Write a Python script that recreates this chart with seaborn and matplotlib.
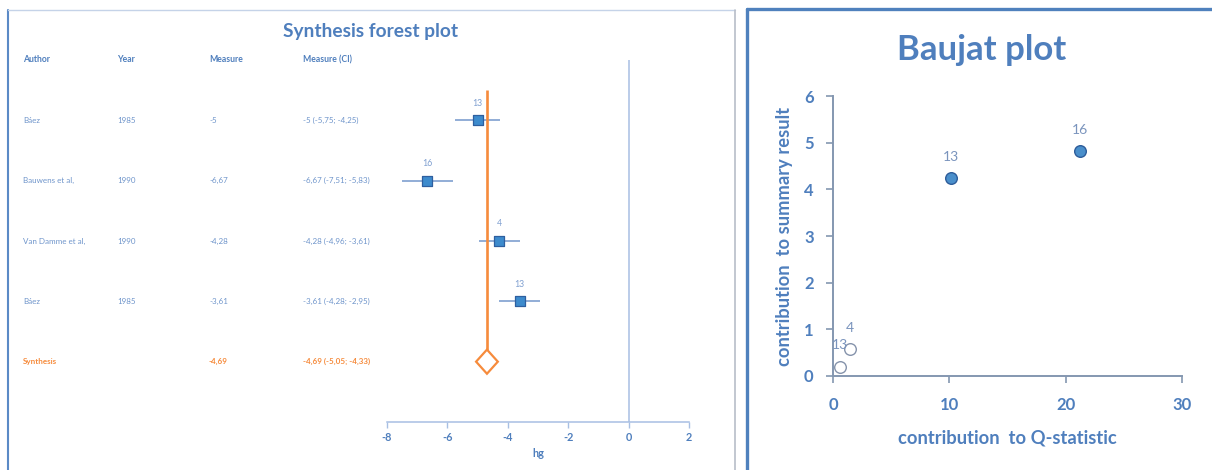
import matplotlib
matplotlib.use("Agg")
import matplotlib.pyplot as plt
import matplotlib.transforms as mtransforms
from matplotlib.patches import Polygon
import numpy as np
import pandas as pd
import seaborn as sns

# ---- forest plot data ----
authors = ["Báez", "Bauwens et al,", "Van Damme et al,", "Báez"]
years = ["1985", "1990", "1990", "1985"]
measure = [-5.0, -6.67, -4.28, -3.61]
ci_low = [-5.75, -7.51, -4.96, -4.28]
ci_high = [-4.25, -5.83, -3.61, -2.95]
weights = ["13", "16", "4", "13"]
measure_text = ["-5", "-6,67", "-4,28", "-3,61"]
ci_text = ["-5 (-5,75; -4,25)", "-6,67 (-7,51; -5,83)",
           "-4,28 (-4,96; -3,61)", "-3,61 (-4,28; -2,95)"]
synth_est, synth_low, synth_high = -4.69, -5.05, -4.33
synth_text = ["Synthesis", "", "-4,69", "-4,69 (-5,05; -4,33)"]
headers = ["Author", "Year", "Measure", "Measure (CI)"]
forest_ticks = [-8, -6, -4, -2, 0, 2]

# ---- Baujat plot data ----
baujat_q = [10.15, 21.2, 1.42, 0.6]
baujat_infl = [4.24, 4.82, 0.57, 0.2]
baujat_labels = ["13", "16", "4", "13"]
baujat_highlight = [True, True, False, False]
baujat_xticks = [0, 10, 20, 30]
baujat_yticks = [0, 1, 2, 3, 4, 5, 6]

sns.set_theme(style="white")
plt.rcParams["font.family"] = ["Lato", "DejaVu Sans"]

BLUE = "#4f7fbd"
LIGHT_BLUE = "#6f95cb"
ORANGE = "#f68b3c"
AXIS_GRAY = "#8497b0"

W, H = 1212, 470
fig = plt.figure(figsize=(W / 100, H / 100), dpi=100)


def fx(px):
    return px / W


def fy(py):
    return 1 - py / H


# panel frames
fig.add_artist(plt.Line2D([fx(7.5), fx(7.5)], [fy(9.5), 0], color="#5b8ac6", lw=1.5))
fig.add_artist(plt.Line2D([fx(7.5), fx(735)], [fy(9.5), fy(9.5)], color="#c5d3e8", lw=1.0))
fig.add_artist(plt.Line2D([fx(735), fx(735)], [fy(9.5), 0], color="#b8bec8", lw=1.2))
fig.add_artist(plt.Line2D([fx(746.5), fx(746.5)], [fy(9), 0], color="#4f81bd", lw=2.4))
fig.add_artist(plt.Line2D([fx(746.5), 1], [fy(9), fy(9)], color="#4f81bd", lw=2.4))

# ---------------- forest plot ----------------
ax = fig.add_axes([fx(387), fy(422), fx(302), (422 - 60) / H])
rows = np.arange(1, len(authors) + 1)
synth_row = len(authors) + 1

ax.hlines(rows, ci_low, ci_high, color="#7f9fd0", lw=1.2, zorder=2)
forest_df = pd.DataFrame({"measure": measure, "row": rows})
sns.scatterplot(data=forest_df, x="measure", y="row", marker="s", s=46,
                color="#3d8bcd", edgecolor="#2e5f9f", linewidth=0.9,
                ax=ax, zorder=3, legend=False)
for r, m, w in zip(rows, measure, weights):
    ax.annotate(w, (m, r), xytext=(0, 9), textcoords="offset points",
                ha="center", va="bottom", fontsize=6.3, color="#7f9fd0")

ax.axvline(0, color="#a8bfe3", lw=1.1, zorder=1)
ax.vlines(synth_est, 0.5, synth_row - 0.2, color=ORANGE, lw=1.9, zorder=4)
diamond = Polygon([(synth_low, synth_row), (synth_est, synth_row - 0.2),
                   (synth_high, synth_row), (synth_est, synth_row + 0.2)],
                  closed=True, facecolor="white", edgecolor=ORANGE, lw=1.6, zorder=5)
ax.add_patch(diamond)

ax.set_xlim(-8, 2)
ax.set_ylim(6.0, 0.0)
ax.set_xticks(forest_ticks)
ax.set_xticklabels([str(t) for t in forest_ticks], fontsize=7.8, fontweight="bold", color=BLUE)
ax.set_yticks([])
ax.set_ylabel("")
ax.set_xlabel("hg", fontsize=7.8, fontweight="bold", color=BLUE, labelpad=4)
for side in ["top", "right", "left"]:
    ax.spines[side].set_visible(False)
ax.spines["bottom"].set_color("#a8bfe3")
ax.spines["bottom"].set_linewidth(1.1)
ax.tick_params(axis="x", bottom=True, direction="out", length=4, width=1.0,
               color="#a8bfe3", pad=3)
ax.patch.set_alpha(0)

# table columns beside the plot
trans = mtransforms.blended_transform_factory(fig.transFigure, ax.transData)
col_x = [fx(23), fx(117), fx(209), fx(303)]
for cx, h in zip(col_x, headers):
    ax.text(cx, 0.0, h, transform=trans, fontsize=6.2, fontweight="bold",
            color=BLUE, ha="left", va="center", clip_on=False)
for r, a, yv, mt, ct in zip(rows, authors, years, measure_text, ci_text):
    for cx, t in zip(col_x, [a, yv, mt, ct]):
        ax.text(cx, r, t, transform=trans, fontsize=5.8, color=LIGHT_BLUE,
                ha="left", va="center", clip_on=False)
for cx, t in zip(col_x, synth_text):
    ax.text(cx, synth_row, t, transform=trans, fontsize=5.8, fontweight="bold",
            color=ORANGE, ha="left", va="center", clip_on=False)

fig.text(fx(371), fy(32), "Synthesis forest plot", fontsize=13.8, fontweight="bold",
         color=BLUE, ha="center", va="center")

# ---------------- Baujat plot ----------------
bx = fig.add_axes([fx(833), fy(376), fx(349), (376 - 96) / H])
baujat_df = pd.DataFrame({"q": baujat_q, "infl": baujat_infl,
                          "label": baujat_labels, "hl": baujat_highlight})
hi = baujat_df[baujat_df["hl"]]
lo = baujat_df[~baujat_df["hl"]]
sns.scatterplot(data=hi, x="q", y="infl", s=70, color="#4a8fcb",
                edgecolor="#2d5c9a", linewidth=1.0, ax=bx, zorder=3, legend=False,
                clip_on=False)
sns.scatterplot(data=lo, x="q", y="infl", s=70, facecolor="white",
                edgecolor="#8593ab", linewidth=1.0, ax=bx, zorder=3, legend=False,
                clip_on=False)
for _, row in baujat_df.iterrows():
    bx.annotate(row["label"], (row["q"], row["infl"]), xytext=(0, 11),
                textcoords="offset points", ha="center", va="bottom",
                fontsize=10, color="#7a94bd")

bx.set_xlim(0, 30)
bx.set_ylim(0, 6)
bx.set_xticks(baujat_xticks)
bx.set_yticks(baujat_yticks)
bx.set_xticklabels([str(t) for t in baujat_xticks], fontsize=12, fontweight="bold", color=BLUE)
bx.set_yticklabels([str(t) for t in baujat_yticks], fontsize=12, fontweight="bold", color=BLUE)
bx.set_xlabel("contribution  to Q-statistic", fontsize=13.2, fontweight="bold",
              color=BLUE, labelpad=12)
bx.set_ylabel("contribution  to summary result", fontsize=13.2, fontweight="bold",
              color=BLUE, labelpad=8)
for side in ["top", "right"]:
    bx.spines[side].set_visible(False)
for side in ["left", "bottom"]:
    bx.spines[side].set_color(AXIS_GRAY)
    bx.spines[side].set_linewidth(1.4)
bx.tick_params(bottom=True, left=True, direction="out", length=5, width=1.2,
               color=AXIS_GRAY)
bx.tick_params(axis="x", pad=10)
bx.tick_params(axis="y", pad=9)
bx.patch.set_alpha(0)

fig.text(fx(982), fy(50), "Baujat plot", fontsize=25, fontweight="bold",
         color=BLUE, ha="center", va="center")

fig.savefig("out.png", dpi=100, facecolor="white")
